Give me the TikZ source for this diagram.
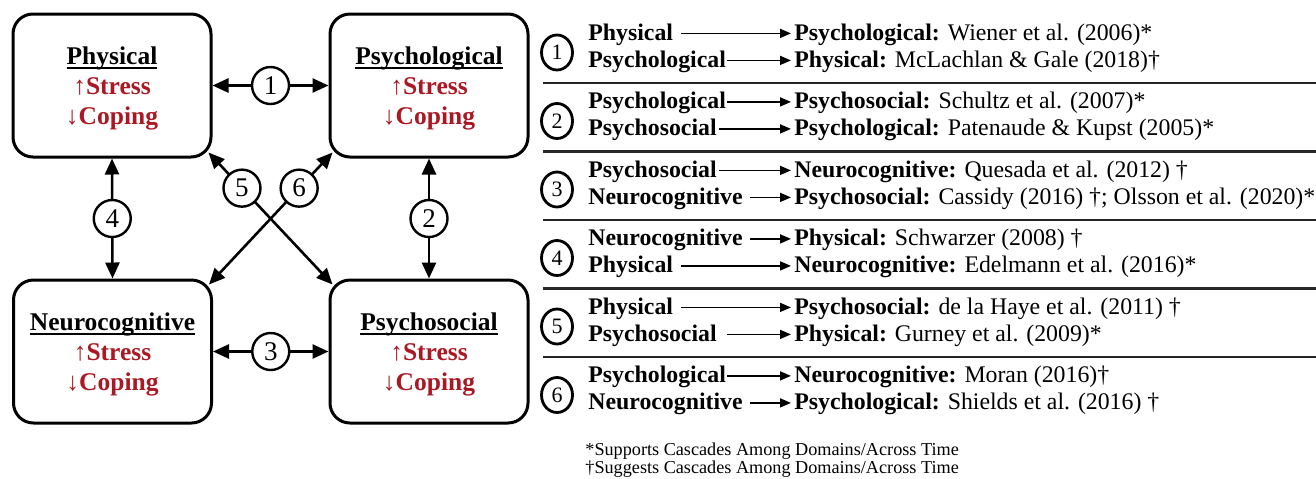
\documentclass[tikz,border=0pt]{standalone}
\usepackage{fontspec}
\setmainfont{Liberation Serif}
\usetikzlibrary{arrows.meta,shapes.geometric}
\definecolor{dred}{RGB}{170,25,35}
\newcommand\ulword[1]{\setbox0\hbox{#1}\rlap{\vrule height -1.4pt depth 2.3pt width \wd0}\box0}
\begin{document}
\begin{tikzpicture}[x=0.5pt,y=-0.5pt,
  dombox/.style={draw, line width=1.5pt, rounded corners=10pt, minimum width=99pt, minimum height=71.5pt, inner sep=0},
  domtext/.style={align=center, font=\fontsize{12.75}{15}\selectfont\bfseries, inner sep=0},
  dnum/.style={circle, draw, fill=white, line width=1.2pt, minimum size=18.5pt, inner sep=0, font=\fontsize{13.5}{13.5}\selectfont},
  darrow/.style={line width=1.3pt, {Triangle[length=8pt,width=7pt]}-{Triangle[length=8pt,width=7pt]}},
  tnum/.style={ellipse, draw, line width=1.4pt, minimum width=15.5pt, minimum height=17.5pt, inner sep=0, font=\fontsize{11}{11}\selectfont},
  lterm/.style={anchor=base west, inner sep=0, font=\fontsize{11.9}{11.9}\selectfont\bfseries, text height=8.6pt, text depth=2pt},
  rterm/.style={anchor=base west, inner sep=0, font=\fontsize{11.9}{11.9}\selectfont, text height=8.6pt, text depth=2pt},
  tarrow/.style={line width=0.8pt, -{Triangle[length=5.5pt,width=4.5pt]}},
  seprule/.style={line width=1.2pt, draw=black!85},
  footnote/.style={anchor=base west, inner sep=0, font=\fontsize{9.1}{9.1}\selectfont}
]
\useasboundingbox (0,0) rectangle (1316,478);

% ---- domain boxes
\node[dombox] (phys) at (112,85.5) {};
\node[dombox] (psyc) at (429,85.5) {};
\node[dombox] (neur) at (112.5,351.5) {};
\node[dombox] (psoc) at (429,351.5) {};
\node[domtext] (physT) at ([yshift=-1.5pt]phys.center) {\ulword{Physical}\\\textcolor{dred}{{\mdseries ↑}Stress}\\\textcolor{dred}{{\mdseries ↓}Coping}};
\node[domtext] (psycT) at ([yshift=-1.5pt]psyc.center) {\ulword{Psychological}\\\textcolor{dred}{{\mdseries ↑}Stress}\\\textcolor{dred}{{\mdseries ↓}Coping}};
\node[domtext] (neurT) at ([yshift=-1.5pt]neur.center) {\ulword{Neurocognitive}\\\textcolor{dred}{{\mdseries ↑}Stress}\\\textcolor{dred}{{\mdseries ↓}Coping}};
\node[domtext] (psocT) at ([yshift=-1.5pt]psoc.center) {\ulword{Psychosocial}\\\textcolor{dred}{{\mdseries ↑}Stress}\\\textcolor{dred}{{\mdseries ↓}Coping}};

% ---- connectors
\draw[darrow] (phys.east) -- node[dnum] (c1) {1} (psyc.west);
\draw[darrow] (psyc.south) -- node[dnum] (c2) {2} (psoc.north);
\draw[darrow] (neur.east) -- node[dnum] (c3) {3} (psoc.west);
\draw[darrow] (phys.south) -- node[dnum] (c4) {4} (neur.north);
\draw[darrow] ([shift={(-4,-6)}]phys.south east) -- node[dnum, pos=0.27] (c5) {5} ([shift={(4,6)}]psoc.north west);
\draw[darrow] ([shift={(4,-6)}]psyc.south west) -- node[dnum, pos=0.27] (c6) {6} ([shift={(-4,6)}]neur.north east);

% ---- table separators
\draw[seprule] (543,83) -- (1316,83);
\draw[seprule] (543,151.5) -- (1316,151.5);
\draw[seprule] (543,220) -- (1316,220);
\draw[seprule] (543,288.5) -- (1316,288.5);
\draw[seprule] (543,357) -- (1316,357);

% ---- table circles
\node[tnum] (t1) at (557,52.5) {1};
\node[tnum] (t2) at (557,121) {2};
\node[tnum] (t3) at (557,189.5) {3};
\node[tnum] (t4) at (557,258) {4};
\node[tnum] (t5) at (557,326.5) {5};
\node[tnum] (t6) at (557,395) {6};

% ---- rows
\node[lterm] (l1) at (588,40) {Physical};
\node[rterm] (r1) at (794,40) {\textbf{Psychological:} Wiener et al. (2006)*};
\node[lterm] (l2) at (588,67) {Psychological};
\node[rterm] (r2) at (794,67) {\textbf{Physical:} McLachlan \& Gale (2018)†};

\node[lterm] (l3) at (588,108.5) {Psychological};
\node[rterm] (r3) at (794,108.5) {\textbf{Psychosocial:} Schultz et al. (2007)*};
\node[lterm] (l4) at (588,135.5) {Psychosocial};
\node[rterm] (r4) at (794,135.5) {\textbf{Psychological:} Patenaude \& Kupst (2005)*};

\node[lterm] (l5) at (588,177) {Psychosocial};
\node[rterm] (r5) at (794,177) {\textbf{Neurocognitive:} Quesada et al. (2012) †};
\node[lterm] (l6) at (588,204) {Neurocognitive};
\node[rterm] (r6) at (794,204) {\textbf{Psychosocial:} Cassidy (2016) †; Olsson et al. (2020)*};

\node[lterm] (l7) at (588,245.5) {Neurocognitive};
\node[rterm] (r7) at (794,245.5) {\textbf{Physical:} Schwarzer (2008) †};
\node[lterm] (l8) at (588,272.5) {Physical};
\node[rterm] (r8) at (794,272.5) {\textbf{Neurocognitive:} Edelmann et al. (2016)*};

\node[lterm] (l9) at (588,314) {Physical};
\node[rterm] (r9) at (794,314) {\textbf{Psychosocial:} de la Haye et al. (2011) †};
\node[lterm] (l10) at (588,341) {Psychosocial};
\node[rterm] (r10) at (794,341) {\textbf{Physical:} Gurney et al. (2009)*};

\node[lterm] (l11) at (588,382.5) {Psychological};
\node[rterm] (r11) at (794,382.5) {\textbf{Neurocognitive:} Moran (2016)†};
\node[lterm] (l12) at (588,409.5) {Neurocognitive};
\node[rterm] (r12) at (794,409.5) {\textbf{Psychological:} Shields et al. (2016) †};

\draw[tarrow] ([xshift=4pt]l1.east) -- ([xshift=-1.5pt]r1.west);
\draw[tarrow] ([xshift=0.5pt]l2.east) -- ([xshift=-1.5pt]r2.west);
\draw[tarrow] ([xshift=0.5pt]l3.east) -- ([xshift=-1.5pt]r3.west);
\draw[tarrow] ([xshift=1pt]l4.east) -- ([xshift=-1.5pt]r4.west);
\draw[tarrow] ([xshift=1pt]l5.east) -- ([xshift=-1.5pt]r5.west);
\draw[tarrow] ([xshift=3.5pt]l6.east) -- ([xshift=-1.5pt]r6.west);
\draw[tarrow] ([xshift=3.5pt]l7.east) -- ([xshift=-1.5pt]r7.west);
\draw[tarrow] ([xshift=4pt]l8.east) -- ([xshift=-1.5pt]r8.west);
\draw[tarrow] ([xshift=4pt]l9.east) -- ([xshift=-1.5pt]r9.west);
\draw[tarrow] ([xshift=5pt]l10.east) -- ([xshift=-1.5pt]r10.west);
\draw[tarrow] ([xshift=0.5pt]l11.east) -- ([xshift=-1.5pt]r11.west);
\draw[tarrow] ([xshift=3.5pt]l12.east) -- ([xshift=-1.5pt]r12.west);

% ---- notes
\node[footnote] (n1) at (585,455) {*Supports Cascades Among Domains/Across Time};
\node[footnote] (n2) at (585,473) {†Suggests Cascades Among Domains/Across Time};
\end{tikzpicture}
\end{document}
